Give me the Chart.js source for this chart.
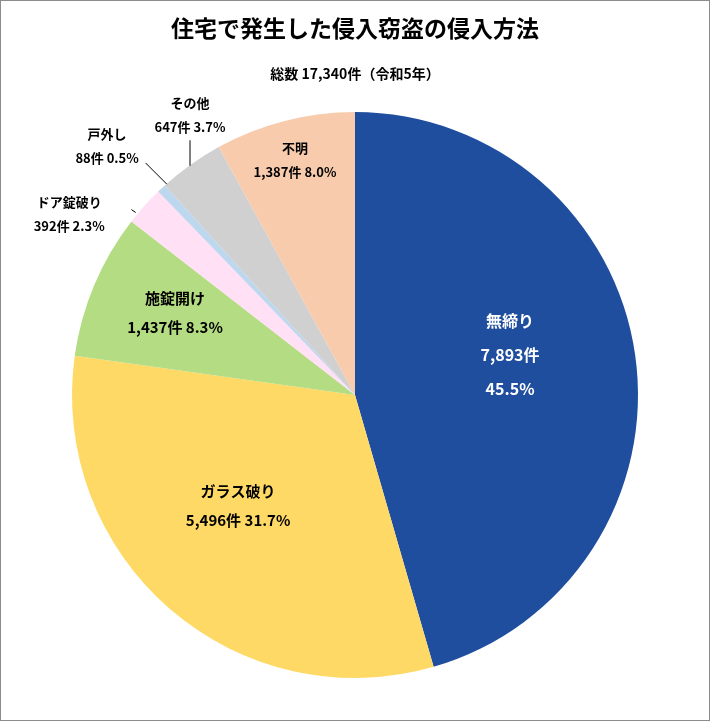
<!DOCTYPE html>
<html><head><meta charset="utf-8">
<script src="https://cdn.jsdelivr.net/npm/chart.js@4/dist/chart.umd.min.js"></script>
<style>html,body{margin:0;padding:0;background:#fff}#w{width:710px;height:721px}</style>
</head><body><div id="w"><canvas id="c"></canvas></div>
<script>
const categories = ['無締り','ガラス破り','施錠開け','ドア錠破り','戸外し','その他','不明'];
const counts = [7893,5496,1437,392,88,647,1387];
const percents = ['45.5%','31.7%','8.3%','2.3%','0.5%','3.7%','8.0%'];
const colors = ['#1F4E9F','#FFD966','#B4DC82','#FFE0F5','#BDD7EE','#D0D0D0','#F8CBAD'];
const title = '住宅で発生した侵入窃盗の侵入方法';
const subtitle = '総数 17,340件（令和5年）';
// label layout: [fx, fy, lines mode, leader]
const labelPos = [
  {f:[0.548,-0.141], lines:3, color:'#fff'},
  {f:[-0.413,0.39], lines:2},
  {f:[-0.636,-0.29], lines:2},
  {f:[-1.01,-0.64], lines:2, small:true, lead:[[-0.79,-0.655],[-0.775,-0.645]]},
  {f:[-0.876,-0.88], lines:2, small:true, lead:[[-0.74,-0.82],[-0.665,-0.745]]},
  {f:[-0.583,-0.99], lines:2, small:true, lead:[[-0.583,-0.9],[-0.583,-0.81]]},
  {f:[-0.212,-0.83], lines:2, small:true}
];
const FONT = '"Noto Sans CJK JP","Noto Sans",sans-serif';
const fmt = n => n.toLocaleString('en-US');
const deco = {
  id:'deco',
  beforeDraw(ch){const c=ch.ctx;c.save();c.fillStyle='#fff';c.fillRect(0,0,ch.width,ch.height);c.restore();},
  afterDraw(ch){
    const c=ch.ctx; c.save();
    c.strokeStyle='#8c8c8c'; c.lineWidth=1; c.strokeRect(0.5,0.5,ch.width-1,ch.height-1);
    c.fillStyle='#000'; c.textAlign='center'; c.textBaseline='middle';
    c.font='bold 23px '+FONT; c.fillText(title,355,28);
    c.font='bold 14px '+FONT; c.fillText(subtitle,355,74);
    const arc=ch.getDatasetMeta(0).data[0]; const cx=arc.x, cy=arc.y, r=arc.outerRadius;
    labelPos.forEach((p,i)=>{
      const x=cx+p.f[0]*r, y=cy+p.f[1]*r;
      c.fillStyle=p.color||'#000';
      if(p.lines===3){
        c.font='bold 16px '+FONT;
        c.fillText(categories[i],x,y-34); c.fillText(fmt(counts[i])+'件',x,y); c.fillText(percents[i],x,y+34);
      } else {
        const fs=p.small?13:15, gap=p.small?24:29;
        c.font='bold '+fs+'px '+FONT;
        c.fillText(categories[i],x,y-gap/2); c.fillText(fmt(counts[i])+'件 '+percents[i],x,y+gap/2);
      }
      if(p.lead){c.strokeStyle='#000';c.lineWidth=1;c.beginPath();
        c.moveTo(cx+p.lead[0][0]*r,cy+p.lead[0][1]*r);c.lineTo(cx+p.lead[1][0]*r,cy+p.lead[1][1]*r);c.stroke();}
    });
    c.restore();
  }
};
new Chart(document.getElementById('c'),{
  type:'pie',
  data:{labels:categories,datasets:[{data:counts,backgroundColor:colors,borderWidth:0}]},
  options:{responsive:true,maintainAspectRatio:false,animation:false,
    layout:{padding:{top:112,bottom:43,left:0,right:0}},
    plugins:{legend:{display:false},tooltip:{enabled:false}}},
  plugins:[deco]
});
</script></body></html>
